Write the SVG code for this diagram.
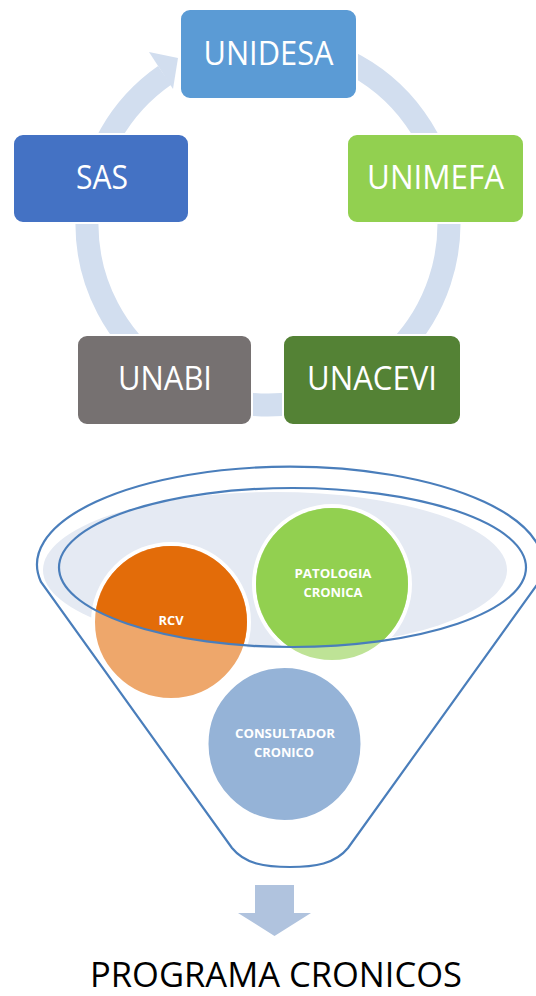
<svg xmlns="http://www.w3.org/2000/svg" width="536" height="996" viewBox="0 0 536 996">
  <style>
    .box { stroke: #ffffff; stroke-width: 2; }
    .blabel { font-family: "Open Sans", "Liberation Sans", sans-serif; font-size: 32px; fill: #ffffff; text-anchor: middle; }
    .clabel { font-family: "Open Sans", "Liberation Sans", sans-serif; font-weight: bold; font-size: 12px; fill: #ffffff; text-anchor: middle; }
    .ring { fill: none; stroke: #D2DEEF; stroke-width: 23; }
    .fline { fill: none; stroke: #4A7EBB; stroke-width: 2.2; }
    .circ { stroke: #ffffff; stroke-width: 4; }
  </style>
  <defs>
    <clipPath id="innerClip">
      <ellipse cx="292.5" cy="567.5" rx="233.5" ry="79.5"/>
    </clipPath>
  </defs>
  <rect width="536" height="996" fill="#ffffff"/>

  <g id="connectors">
    <path class="ring" d="M 268 43 A 181 181 0 1 1 164.6 75.4"/>
    <polygon points="149,52 178,58 173,89" fill="#D2DEEF"/>
    <polygon id="down-arrow" points="255,885 294,885 294,913 311,913 274.5,936 238,913 255,913" fill="#B0C3DE"/>
  </g>

  <g id="unidesa">
    <rect class="box" x="180" y="9" width="177" height="90" rx="10" fill="#5B9BD5"/>
    <text class="blabel" x="268.5" y="65" textLength="130" lengthAdjust="spacingAndGlyphs">UNIDESA</text>
  </g>
  <g id="unimefa">
    <rect class="box" x="347" y="134" width="177" height="89" rx="10" fill="#92D050"/>
    <text class="blabel" x="435.5" y="189" textLength="137" lengthAdjust="spacingAndGlyphs">UNIMEFA</text>
  </g>
  <g id="unacevi">
    <rect class="box" x="283" y="335" width="178" height="90" rx="10" fill="#548235"/>
    <text class="blabel" x="372" y="390" textLength="130" lengthAdjust="spacingAndGlyphs">UNACEVI</text>
  </g>
  <g id="unabi">
    <rect class="box" x="77" y="335" width="175" height="90" rx="10" fill="#767171"/>
    <text class="blabel" x="165" y="390" textLength="94" lengthAdjust="spacingAndGlyphs">UNABI</text>
  </g>
  <g id="sas">
    <rect class="box" x="13" y="134" width="176" height="89" rx="10" fill="#4472C4"/>
    <text class="blabel" x="102" y="189" textLength="52" lengthAdjust="spacingAndGlyphs">SAS</text>
  </g>

  <g id="funnel">
    <ellipse cx="275" cy="570" rx="232" ry="78" fill="#E5EAF3"/>
  </g>

  <g id="rcv">
    <circle class="circ" cx="171" cy="622" r="78" fill="#EEA76B"/>
    <circle cx="171" cy="622" r="76" fill="#E36C09" clip-path="url(#innerClip)"/>
    <text class="clabel" x="171" y="625" textLength="25" lengthAdjust="spacingAndGlyphs">RCV</text>
  </g>
  <g id="patologia">
    <circle class="circ" cx="332" cy="584" r="78" fill="#BEE396"/>
    <circle cx="332" cy="584" r="76" fill="#92D050" clip-path="url(#innerClip)"/>
    <text class="clabel" x="333" y="578" textLength="77" lengthAdjust="spacingAndGlyphs">PATOLOGIA</text>
    <text class="clabel" x="333" y="597" textLength="59" lengthAdjust="spacingAndGlyphs">CRONICA</text>
  </g>
  <g id="consultador">
    <circle class="circ" cx="284.5" cy="744" r="78" fill="#95B3D7"/>
    <text class="clabel" x="285" y="738" textLength="100" lengthAdjust="spacingAndGlyphs">CONSULTADOR</text>
    <text class="clabel" x="284" y="757" textLength="60" lengthAdjust="spacingAndGlyphs">CRONICO</text>
  </g>

  <g id="funnel-outline">
    <ellipse class="fline" cx="292.5" cy="567.5" rx="233.5" ry="79.5"/>
    <path class="fline" d="M 41 582 A 253 98 0 1 1 539 582 L 348 848 C 335 864 315 867 290 867 C 265 867 245 864 232 848 Z"/>
  </g>

  <g id="programa">
    <text x="276" y="987" font-family="'Open Sans', 'Liberation Sans', sans-serif" font-size="34" fill="#000000" text-anchor="middle" textLength="372" lengthAdjust="spacingAndGlyphs">PROGRAMA CRONICOS</text>
  </g>
</svg>
